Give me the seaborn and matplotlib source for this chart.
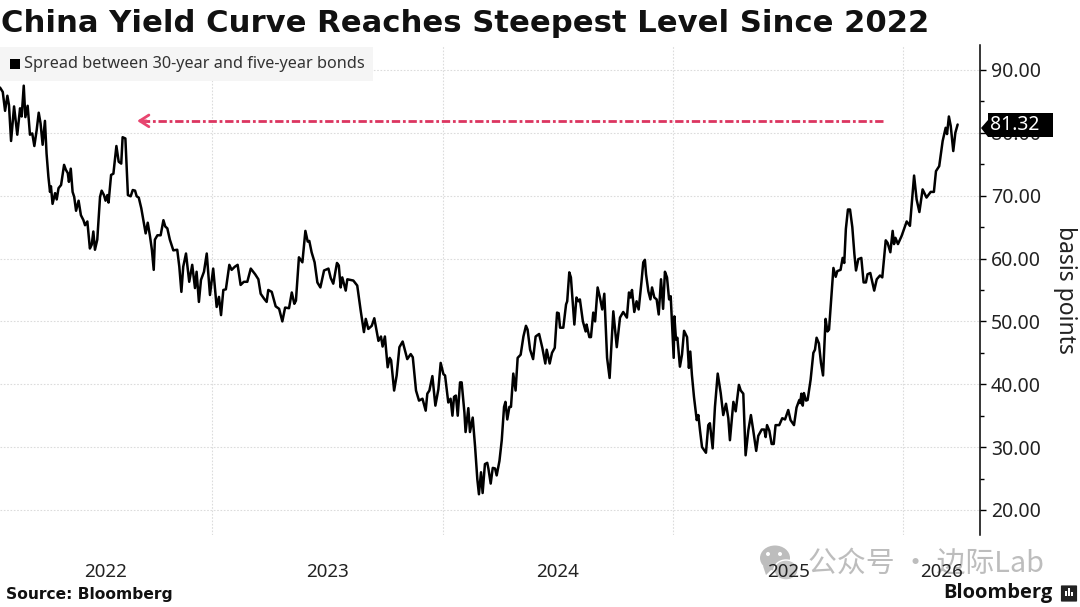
import matplotlib
matplotlib.use('Agg')
import matplotlib.pyplot as plt
import pandas as pd
import seaborn as sns
from matplotlib.patches import Ellipse, FancyBboxPatch, Rectangle, Polygon
from matplotlib.ticker import MultipleLocator, FixedLocator, NullFormatter, FixedFormatter, FormatStrFormatter

# values, x = fractional year, y = basis points
years_2022 = [
    2022.080, 2022.092, 2022.102, 2022.112, 2022.119, 2022.128, 2022.141, 2022.155, 2022.167, 2022.174,
    2022.183, 2022.190, 2022.200, 2022.210, 2022.220, 2022.229, 2022.239, 2022.248, 2022.256, 2022.265,
    2022.275, 2022.282, 2022.290, 2022.297, 2022.301, 2022.308, 2022.319, 2022.326, 2022.334, 2022.345,
    2022.358, 2022.366, 2022.374, 2022.379, 2022.387, 2022.395, 2022.402, 2022.410, 2022.421, 2022.431,
    2022.442, 2022.449, 2022.459, 2022.470, 2022.478, 2022.485, 2022.492, 2022.502, 2022.514, 2022.521,
    2022.531, 2022.538, 2022.546, 2022.551, 2022.562, 2022.572, 2022.585, 2022.595, 2022.606, 2022.612,
    2022.624, 2022.635, 2022.647, 2022.656, 2022.666, 2022.673, 2022.682, 2022.693, 2022.702, 2022.712,
    2022.721, 2022.731, 2022.739, 2022.747, 2022.752, 2022.763, 2022.777, 2022.789, 2022.797, 2022.806,
    2022.817, 2022.832, 2022.849, 2022.858, 2022.867, 2022.875, 2022.887, 2022.901, 2022.914, 2022.926,
    2022.933, 2022.943, 2022.952, 2022.965, 2022.977, 2022.991,
]
spread_2022 = [
    87.2, 86.5, 83.5, 85.9, 84.4, 78.7, 84.2, 79.7, 83.9, 82.6,
    87.5, 82.5, 84.3, 79.7, 79.9, 77.9, 80.4, 83.2, 81.5, 78.1,
    81.9, 76.7, 73.0, 70.6, 71.5, 68.7, 70.4, 69.4, 71.2, 71.7,
    74.9, 74.1, 73.6, 72.2, 74.3, 70.6, 69.8, 67.6, 69.2, 66.9,
    66.1, 65.3, 65.9, 61.6, 62.2, 64.3, 61.4, 63.0, 69.8, 70.8,
    70.1, 69.2, 70.1, 68.9, 73.3, 73.5, 77.9, 75.4, 75.1, 79.3,
    79.1, 70.1, 69.9, 70.9, 70.8, 69.9, 69.7, 68.0, 66.1, 64.0,
    65.7, 63.5, 61.4, 58.2, 63.0, 63.7, 63.7, 66.1, 65.1, 64.8,
    63.0, 61.3, 61.4, 58.7, 54.7, 58.7, 60.8, 56.3, 59.0, 55.3,
    57.9, 53.1, 56.6, 57.9, 60.8, 54.2,
]

years_2023 = [
    2023.005, 2023.020, 2023.030, 2023.039, 2023.049, 2023.060, 2023.075, 2023.085, 2023.099, 2023.111,
    2023.124, 2023.138, 2023.153, 2023.168, 2023.187, 2023.201, 2023.211, 2023.226, 2023.237, 2023.244,
    2023.259, 2023.276, 2023.291, 2023.305, 2023.317, 2023.334, 2023.346, 2023.357, 2023.364, 2023.377,
    2023.392, 2023.405, 2023.415, 2023.422, 2023.432, 2023.445, 2023.457, 2023.470, 2023.486, 2023.505,
    2023.515, 2023.526, 2023.542, 2023.550, 2023.558, 2023.565, 2023.580, 2023.587, 2023.613, 2023.630,
    2023.645, 2023.659, 2023.667, 2023.678, 2023.693, 2023.704, 2023.722, 2023.733, 2023.740, 2023.750,
    2023.762, 2023.771, 2023.777, 2023.790, 2023.801, 2023.813, 2023.827, 2023.847, 2023.862, 2023.871,
    2023.885, 2023.898, 2023.913, 2023.927, 2023.934, 2023.943, 2023.956, 2023.969, 2023.982, 2023.992,
]
spread_2023 = [
    58.4, 52.3, 53.9, 51.0, 55.0, 55.1, 59.0, 58.2, 58.7, 59.0,
    55.8, 56.3, 56.3, 58.4, 57.5, 56.7, 54.4, 53.6, 53.1, 55.0,
    54.7, 52.4, 52.0, 50.0, 52.2, 52.1, 54.6, 52.8, 53.3, 60.2,
    59.4, 64.4, 62.7, 62.8, 61.0, 59.4, 56.2, 55.4, 58.1, 58.4,
    56.9, 56.0, 59.3, 58.9, 55.4, 57.0, 54.9, 56.7, 56.5, 55.7,
    51.7, 48.3, 50.4, 48.8, 49.3, 50.5, 46.9, 47.6, 46.0, 47.6,
    42.7, 44.2, 43.8, 39.0, 41.4, 45.9, 46.8, 44.0, 44.8, 44.3,
    39.0, 37.4, 37.7, 35.8, 38.5, 39.0, 41.3, 36.6, 39.2, 43.4,
]

years_2024 = [
    2024.004, 2024.011, 2024.025, 2024.035, 2024.043, 2024.050, 2024.058, 2024.066, 2024.076, 2024.083,
    2024.095, 2024.100, 2024.112, 2024.119, 2024.131, 2024.141, 2024.151, 2024.158, 2024.167, 2024.174,
    2024.184, 2024.194, 2024.199, 2024.209, 2024.218, 2024.228, 2024.235, 2024.247, 2024.257, 2024.267,
    2024.273, 2024.281, 2024.290, 2024.297, 2024.307, 2024.317, 2024.326, 2024.339, 2024.351, 2024.362,
    2024.369, 2024.380, 2024.393, 2024.404, 2024.419, 2024.433, 2024.446, 2024.452, 2024.465, 2024.475,
    2024.487, 2024.497, 2024.504, 2024.510, 2024.524, 2024.536, 2024.541, 2024.550, 2024.557, 2024.572,
    2024.581, 2024.589, 2024.596, 2024.609, 2024.621, 2024.625, 2024.637, 2024.644, 2024.654, 2024.662,
    2024.673, 2024.683, 2024.693, 2024.702, 2024.714, 2024.725, 2024.741, 2024.756, 2024.770, 2024.784,
    2024.800, 2024.809, 2024.816, 2024.822, 2024.832, 2024.842, 2024.851, 2024.863, 2024.871, 2024.878,
    2024.883, 2024.893, 2024.902, 2024.909, 2024.919, 2024.929, 2024.938, 2024.948, 2024.957, 2024.965,
    2024.974, 2024.983, 2024.990,
]
spread_2024 = [
    41.6, 41.4, 37.1, 37.7, 35.0, 38.0, 38.2, 35.0, 40.3, 40.3,
    35.5, 32.4, 36.2, 32.4, 34.7, 30.2, 24.9, 22.5, 26.0, 22.7,
    27.3, 27.5, 26.6, 24.2, 26.7, 26.6, 25.5, 27.8, 31.1, 36.4,
    37.2, 34.4, 36.4, 36.4, 41.7, 39.0, 44.2, 44.7, 47.6, 49.3,
    48.7, 45.5, 44.0, 47.6, 48.0, 45.8, 43.3, 45.5, 43.3, 45.0,
    45.8, 51.4, 51.3, 49.0, 49.0, 52.7, 53.2, 57.8, 57.0, 49.5,
    53.8, 53.2, 53.5, 50.0, 48.4, 49.5, 47.5, 47.5, 51.4, 50.0,
    55.4, 53.8, 51.9, 54.4, 44.2, 41.0, 51.6, 45.9, 50.6, 51.5,
    50.6, 54.6, 53.8, 55.0, 51.5, 53.2, 51.9, 56.2, 59.4, 59.8,
    57.5, 54.8, 53.5, 55.4, 53.8, 53.5, 51.1, 56.7, 52.0, 57.9,
    57.0, 53.5, 54.0,
]

years_2025 = [
    2025.003, 2025.006, 2025.013, 2025.019, 2025.030, 2025.039, 2025.048, 2025.061, 2025.069, 2025.075,
    2025.082, 2025.091, 2025.103, 2025.110, 2025.117, 2025.126, 2025.143, 2025.153, 2025.160, 2025.172,
    2025.182, 2025.194, 2025.207, 2025.218, 2025.230, 2025.240, 2025.247, 2025.262, 2025.272, 2025.286,
    2025.294, 2025.305, 2025.315, 2025.327, 2025.338, 2025.348, 2025.361, 2025.370, 2025.385, 2025.396,
    2025.402, 2025.408, 2025.418, 2025.428, 2025.437, 2025.445, 2025.461, 2025.474, 2025.486, 2025.500,
    2025.510, 2025.525, 2025.536, 2025.548, 2025.552, 2025.557, 2025.563, 2025.568, 2025.577, 2025.584,
    2025.597, 2025.609, 2025.616, 2025.623, 2025.633, 2025.642, 2025.651, 2025.662, 2025.670, 2025.677,
    2025.696, 2025.706, 2025.713, 2025.727, 2025.736, 2025.743, 2025.750, 2025.759, 2025.768, 2025.778,
    2025.787, 2025.794, 2025.804, 2025.817, 2025.827, 2025.837, 2025.844, 2025.856, 2025.873, 2025.884,
    2025.898, 2025.908, 2025.923, 2025.931, 2025.943, 2025.953, 2025.959, 2025.965, 2025.976, 2025.992,
]
spread_2025 = [
    44.2, 50.8, 47.1, 47.4, 42.8, 44.7, 48.5, 47.5, 42.6, 45.2,
    41.5, 38.0, 34.3, 35.1, 32.7, 30.0, 29.1, 33.5, 33.8, 29.8,
    36.4, 41.7, 38.6, 35.1, 36.9, 34.6, 31.1, 37.2, 35.7, 39.9,
    39.0, 38.5, 28.7, 32.7, 35.1, 32.7, 29.4, 31.8, 32.8, 32.8,
    31.6, 33.5, 32.6, 30.5, 30.5, 33.5, 33.5, 34.6, 34.4, 35.9,
    34.3, 33.5, 36.3, 37.5, 37.0, 38.5, 36.6, 38.6, 37.4, 37.5,
    40.7, 45.0, 45.5, 47.4, 46.5, 43.4, 41.4, 50.4, 48.4, 48.7,
    58.5, 57.1, 58.0, 58.2, 60.1, 59.3, 64.7, 67.8, 67.8, 65.0,
    60.7, 58.1, 59.9, 60.1, 56.2, 56.2, 57.5, 57.7, 54.9, 56.7,
    57.3, 57.0, 62.9, 62.5, 61.0, 64.4, 62.3, 63.3, 62.3, 63.6,
]

years_2026 = [
    2026.014, 2026.028, 2026.046, 2026.057, 2026.069, 2026.083, 2026.100, 2026.118, 2026.132, 2026.141,
    2026.155, 2026.170, 2026.183, 2026.189, 2026.197, 2026.205, 2026.216, 2026.225, 2026.235,
]
spread_2026 = [
    65.9, 65.2, 73.2, 69.4, 67.4, 71.0, 69.7, 70.6, 70.6, 73.9,
    74.7, 78.7, 80.8, 79.8, 82.6, 81.1, 77.1, 80.0, 81.32,
]

year_starts = [2023, 2024, 2025, 2026]
year_centers = [2022.54, 2023.50, 2024.50, 2025.50, 2026.166]
year_labels = ['2022', '2023', '2024', '2025', '2026']
y_ticks = [20, 30, 40, 50, 60, 70, 80, 90]
last_value = 81.32
arrow_level = 81.9
arrow_from = 2025.911
arrow_to = 2022.675

df = pd.DataFrame({
    'year': years_2022 + years_2023 + years_2024 + years_2025 + years_2026,
    'spread': spread_2022 + spread_2023 + spread_2024 + spread_2025 + spread_2026,
})

W, H = 1080, 607
sns.set_theme(style='white')
plt.rcParams['font.family'] = ['Noto Sans', 'DejaVu Sans']

fig = plt.figure(figsize=(W / 100, H / 100), dpi=100)
ax = fig.add_axes([0, (H - 535) / H, 980 / W, 490 / H])

sns.lineplot(data=df, x='year', y='spread', color='black', linewidth=1.8, ax=ax, zorder=4)

ax.set_xlim(2022.080, 2026.332)
ax.set_ylim(16.02, 93.97)
ax.set_xlabel('')
ax.set_ylabel('basis points', fontsize=16.5, rotation=270, labelpad=26, color='#222222')
ax.yaxis.set_label_position('right')

for s in ['left', 'top', 'bottom']:
    ax.spines[s].set_visible(False)
ax.spines['right'].set_visible(True)
ax.spines['right'].set_color('black')
ax.spines['right'].set_linewidth(1.1)

# y axis
ax.yaxis.tick_right()
ax.yaxis.set_major_locator(FixedLocator(y_ticks))
ax.yaxis.set_major_formatter(FormatStrFormatter('%.2f'))
ax.yaxis.set_minor_locator(MultipleLocator(5))
ax.tick_params(axis='y', which='major', right=True, length=4, width=1, pad=4, labelsize=14, labelcolor='#222222', color='black')
ax.tick_params(axis='y', which='minor', right=True, length=3, width=1, color='black')

# x axis: grid on year starts, labels centred on each year
ax.xaxis.set_major_locator(FixedLocator(year_starts))
ax.xaxis.set_major_formatter(NullFormatter())
ax.xaxis.set_minor_locator(FixedLocator(year_centers))
ax.xaxis.set_minor_formatter(FixedFormatter(year_labels))
ax.tick_params(axis='x', which='both', bottom=False, length=0)
ax.tick_params(axis='x', which='minor', pad=20, labelsize=13.5, labelcolor='#222222')

ax.grid(True, which='major', axis='both', color='#dcdcdc', linewidth=0.8, linestyle=(0, (1.5, 1.5)))
ax.set_axisbelow(True)

# red arrow back to the 2022 level
ax.plot([arrow_from, arrow_to + 0.01], [arrow_level, arrow_level], color='#dc3560', linewidth=2,
        linestyle=(0, (3, 1, 1, 1)), zorder=3)
ax.annotate('', xy=(arrow_to, arrow_level), xytext=(arrow_to + 0.04, arrow_level),
            arrowprops=dict(arrowstyle='->,head_length=0.55,head_width=0.35', color='#e8456f', lw=2, shrinkA=0, shrinkB=0))


def fx(px):
    return px / W


def fy(px):
    return 1 - px / H


# last value tag, sits over the 80.00 label like in the original
tag = [(981, 128), (988, 120), (988, 113), (1053, 113), (1053, 137), (988, 137)]
fig.patches.append(Polygon([(fx(a), fy(b)) for a, b in tag], transform=fig.transFigure, fc='black', ec='none', zorder=6))
fig.text(fx(990), fy(125), f'{last_value:.2f}', color='white', fontsize=14, va='center', ha='left', zorder=7)

# title, legend box, source
fig.text(fx(1), fy(23), 'China Yield Curve Reaches Steepest Level Since 2022', fontsize=22.1, fontweight='bold',
         family='DejaVu Sans', color='#111111', va='center', ha='left')
fig.patches.append(Rectangle((0, fy(81)), fx(373), 34 / H, transform=fig.transFigure, fc='#f5f5f5', ec='none', zorder=5))
fig.patches.append(Rectangle((fx(10), fy(69)), 10 / W, 10 / H, transform=fig.transFigure, fc='black', ec='none', zorder=6))
fig.text(fx(24), fy(64), 'Spread between 30-year and five-year bonds', fontsize=11.7, color='#333333', va='center', ha='left', zorder=7)
fig.text(fx(6), fy(595), 'Source: Bloomberg', fontsize=11.2, fontweight='bold', family='DejaVu Sans', color='#111111', va='center', ha='left')

# Bloomberg mark
fig.text(fx(943), fy(593), 'Bloomberg', fontsize=14.5, fontweight='bold', family='Open Sans', color='#111111', va='center', ha='left')
fig.patches.append(FancyBboxPatch((fx(1062), fy(601)), 14 / W, 15 / H, boxstyle='round,pad=0.001', transform=fig.transFigure, fc='#222222', ec='none'))
for bx, bh in zip([1065, 1068, 1071], [5, 8, 4]):
    fig.patches.append(Rectangle((fx(bx), fy(596)), 1.5 / W, bh / H, transform=fig.transFigure, fc='white', ec='none', zorder=6))

# wechat watermark, behind the year labels
wm = '#bdbdbd'
fig.patches.append(Ellipse((fx(775), fy(558)), 30 / W, 25 / H, transform=fig.transFigure, fc=wm, ec='none', zorder=-3))
fig.patches.append(Polygon([(fx(763), fy(566)), (fx(766), fy(575)), (fx(773), fy(568))], transform=fig.transFigure, fc=wm, ec='none', zorder=-3))
fig.patches.append(Ellipse((fx(786), fy(570)), 24 / W, 20 / H, transform=fig.transFigure, fc='#c8c8c8', ec='white', lw=1, zorder=-2))
for ex in [768, 780]:
    fig.patches.append(Ellipse((fx(ex), fy(554)), 4 / W, 4 / H, transform=fig.transFigure, fc='white', ec='none', zorder=-1))
fig.text(fx(808), fy(563), '公众号 · 边际Lab', fontsize=20.8, family=['Noto Sans CJK SC', 'DejaVu Sans'], color=wm, va='center', ha='left', zorder=-1)

fig.savefig('out.png', dpi=100)
